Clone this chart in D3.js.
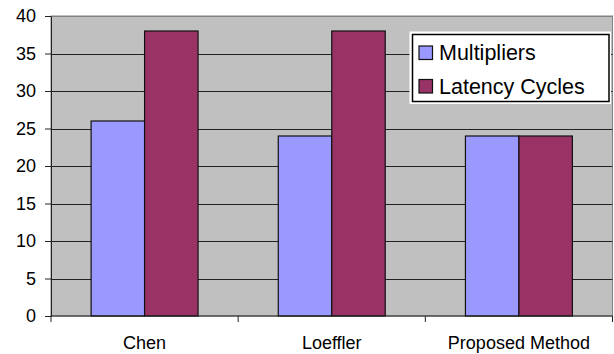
<!DOCTYPE html>
<html>
<head>
<meta charset="utf-8">
<script src="https://cdn.jsdelivr.net/npm/d3@7"></script>
<style>
  html, body { margin: 0; padding: 0; background: #fff; }
  svg { display: block; }
  text { font-family: "Liberation Sans", Arial, sans-serif; fill: #000; }
</style>
</head>
<body>
<svg id="chart" width="614" height="354"></svg>
<script>
// Chart data
const categories = ["Chen", "Loeffler", "Proposed Method"];
const seriesNames = ["Multipliers", "Latency Cycles"];
const multipliers = [26, 24, 24];
const latencyCycles = [38, 38, 24];
const yTicks = [0, 5, 10, 15, 20, 25, 30, 35, 40];

const seriesValues = [multipliers, latencyCycles];
const colors = ["#9999FF", "#993366"];

const svg = d3.select("#chart");
const plot = { left: 51, right: 612.5, top: 16, bottom: 316 };

const y = d3.scaleLinear().domain([0, 40]).range([plot.bottom, plot.top]);
const x0 = d3.scaleBand().domain(categories).range([plot.left, plot.right]).padding(0);
const x1 = d3.scaleBand().domain(seriesNames).range([0, x0.bandwidth()])
  .paddingInner(0).paddingOuter(0.75);

// Plot area background
svg.append("rect")
  .attr("x", plot.left).attr("y", plot.top)
  .attr("width", plot.right - plot.left).attr("height", plot.bottom - plot.top)
  .attr("fill", "#C0C0C0")
  .attr("stroke", "#808080").attr("stroke-width", 1);

// Horizontal gridlines
svg.append("g")
  .selectAll("line")
  .data(yTicks.filter(d => d > 0))
  .join("line")
  .attr("x1", plot.left).attr("x2", plot.right)
  .attr("y1", d => Math.round(y(d)) + 0.5).attr("y2", d => Math.round(y(d)) + 0.5)
  .attr("stroke", d => d === 40 ? "#808080" : "#222")
  .attr("stroke-width", 1);

// Bars
const groups = svg.append("g")
  .selectAll("g")
  .data(categories)
  .join("g")
  .attr("transform", d => `translate(${x0(d)},0)`);

groups.selectAll("rect")
  .data((c, i) => seriesNames.map((s, j) => ({ s, j, v: seriesValues[j][i] })))
  .join("rect")
  .attr("x", d => x1(d.s))
  .attr("y", d => y(d.v))
  .attr("width", x1.bandwidth())
  .attr("height", d => y(0) - y(d.v))
  .attr("fill", d => colors[d.j])
  .attr("stroke", "#111")
  .attr("stroke-width", 1.2);

// Y axis
const yAxis = d3.axisLeft(y).tickValues(yTicks).tickSize(6).tickPadding(9).tickSizeOuter(0);
const gy = svg.append("g")
  .attr("transform", `translate(${plot.left},0)`)
  .call(yAxis);
gy.select(".domain").attr("stroke", "#222");
gy.selectAll(".tick line").attr("stroke", "#222");
gy.selectAll(".tick text")
  .style("font-family", "'Liberation Sans', Arial, sans-serif")
  .style("font-size", "18px")
  .attr("fill", "#000");

// X axis: ticks at category boundaries, labels centred in each category
const gx = svg.append("g").attr("transform", `translate(0,${plot.bottom})`);
gx.append("line")
  .attr("x1", plot.left - 0.5).attr("x2", plot.right)
  .attr("y1", 0).attr("y2", 0)
  .attr("stroke", "#222");
const boundaries = categories.map(c => x0(c)).concat([plot.right]);
gx.selectAll("line.tk")
  .data(boundaries)
  .join("line")
  .attr("class", "tk")
  .attr("x1", d => d).attr("x2", d => d)
  .attr("y1", 0).attr("y2", 6)
  .attr("stroke", "#222");
gx.selectAll("text")
  .data(categories)
  .join("text")
  .attr("x", d => x0(d) + x0.bandwidth() / 2)
  .attr("y", 33)
  .attr("text-anchor", "middle")
  .style("font-size", "18px")
  .text(d => d);

// Legend
const legend = svg.append("g");
legend.append("rect")
  .attr("x", 409.5).attr("y", 31.5).attr("width", 201.5).attr("height", 72.5)
  .attr("fill", "#fff");
legend.append("rect")
  .attr("x", 412.5).attr("y", 34.5).attr("width", 196.5).attr("height", 67)
  .attr("fill", "#fff").attr("stroke", "#000").attr("stroke-width", 1.5);
const items = legend.selectAll("g.item")
  .data(seriesNames)
  .join("g")
  .attr("class", "item")
  .attr("transform", (d, i) => `translate(0,${i * 33.5})`);
items.append("rect")
  .attr("x", 419).attr("y", 46).attr("width", 13.5).attr("height", 13.5)
  .attr("fill", (d, i) => colors[i])
  .attr("stroke", "#111").attr("stroke-width", 1.2);
items.append("text")
  .attr("x", 439).attr("y", 60)
  .style("font-size", "21.5px")
  .text(d => d);
</script>
</body>
</html>
